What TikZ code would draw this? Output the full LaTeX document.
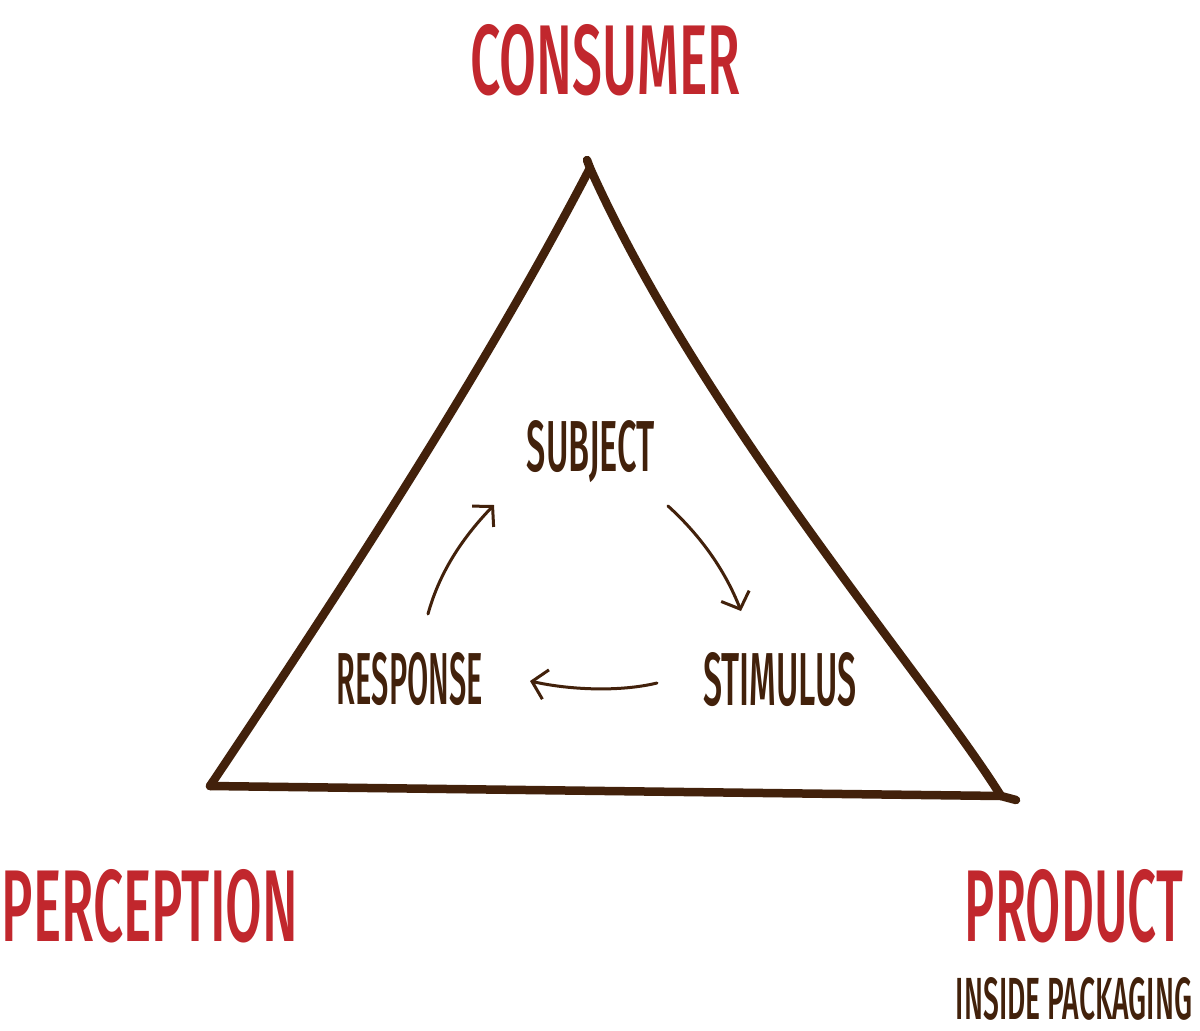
\documentclass[tikz,border=0pt]{standalone}
\usepackage{fontspec}
\usepackage{graphicx}
\usetikzlibrary{arrows.meta}
\IfFontExistsTF{Fira Sans Medium}
  {\setmainfont{Fira Sans Medium}}
  {\setmainfont{Fira Sans}}
\definecolor{tred}{HTML}{C1272D}
\definecolor{tbrown}{HTML}{42210B}
\newcommand\fitbox[3]{\resizebox{#1pt}{#2pt}{#3}}
\tikzset{
  lbl/.style={inner sep=0pt, anchor=center},
  redlbl/.style={lbl, text=tred},
  brnlbl/.style={lbl, text=tbrown},
  tri/.style={draw=tbrown, line width=8.5pt, line cap=round, line join=round},
  flow/.style={draw=tbrown, line width=3pt, line cap=round,
    -{Straight Barb[length=14pt,width=30pt,line width=3pt]}}
}
\begin{document}
\begin{tikzpicture}[x=1pt,y=-1pt]
\useasboundingbox (0,0) rectangle (1200,1031);
\fill[white] (0,0) rectangle (1200,1031);
% labels
\node[redlbl] (consumer) at (605,60) {\fitbox{270}{70}{CONSUMER}};
\node[redlbl] (perception) at (150,906) {\fitbox{296}{72}{PERCEPTION}};
\node[redlbl] (product) at (1074,906) {\fitbox{218}{72}{PRODUCT}};
\node[brnlbl] (inside) at (1074,999) {\fitbox{236}{42}{INSIDE PACKAGING}};
\node[brnlbl] (subject) at (591,452) {\fitbox{128}{51}{SUBJECT}};
\node[brnlbl] (response) at (410,679) {\fitbox{146}{52}{RESPONSE}};
\node[brnlbl] (stimulus) at (780,680) {\fitbox{153}{53}{STIMULUS}};
% triangle
\coordinate (A) at (590,168);
\coordinate (Atop) at (587,160);
\coordinate (BL) at (210,786);
\coordinate (BR) at (1001,796);
\coordinate (BT) at (1016,800);
\draw[tri] (A) .. controls (486,368) and (344,586) .. (BL);
\draw[tri] (A) .. controls (702,418) and (926,676) .. (BR);
\draw[tri] (BL) -- (BR) -- (BT);
\draw[tri] (A) -- (Atop);
% cycle arrows
\coordinate (r1) at (428,614);
\coordinate (s1) at (494,505);
\coordinate (s2) at (668,506);
\coordinate (t2) at (741,611);
\coordinate (t3) at (657,683);
\coordinate (r3) at (530,681);
\draw[flow] (r1) .. controls (440,570) and (465,535) .. (s1);
\draw[flow] (s2) .. controls (700,535) and (725,570) .. (t2);
\draw[flow] (t3) .. controls (620,692) and (570,690) .. (r3);
\end{tikzpicture}
\end{document}
